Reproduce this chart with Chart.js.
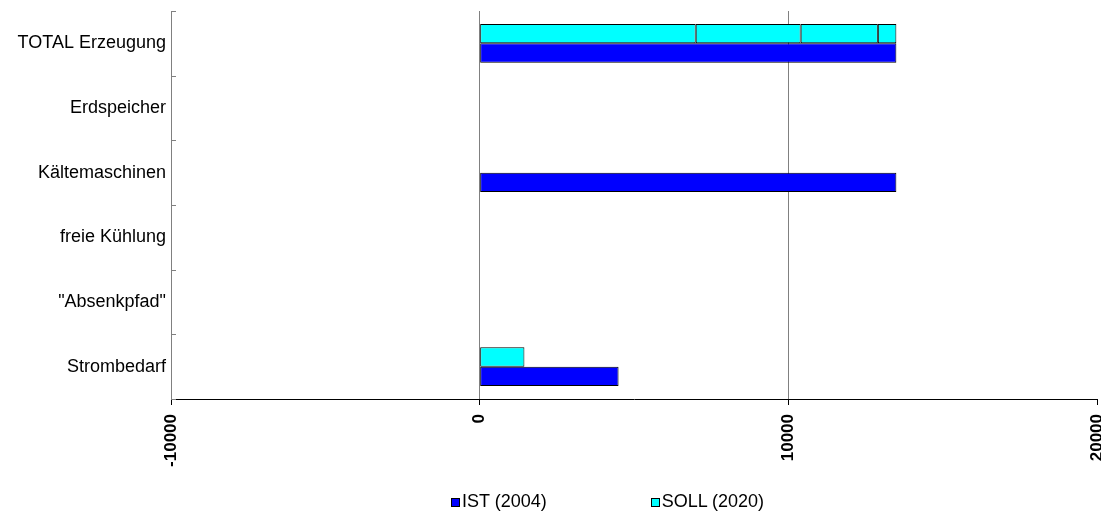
<!DOCTYPE html>
<html><head><meta charset="utf-8">
<script src="https://cdn.jsdelivr.net/npm/chart.js@4/dist/chart.umd.min.js"></script>
<style>
html,body{margin:0;padding:0;background:#fff;}
#wrap{position:relative;width:1101px;height:511px;overflow:hidden;}
#legend{position:absolute;left:451px;top:491px;display:flex;font-family:"Liberation Sans",Arial,sans-serif;font-size:18px;color:#000;line-height:20px;}
.item{display:flex;align-items:center;}
.box{width:7px;height:7px;border:1px solid #000;margin-right:2px;margin-top:2px;}
</style></head><body>
<div id="wrap"><canvas id="c" width="1101" height="511"></canvas><div id="legend"></div></div>
<script>
const categories = ['TOTAL Erzeugung','Erdspeicher','Kältemaschinen','freie Kühlung','"Absenkpfad"','Strombedarf'];
const istValues = [13500, 0, 13500, 0, 0, 4500];
const sollPart1 = [7000, 0, 0, 0, 0, 1450];
const sollPart2 = [3400, 0, 0, 0, 0, 0];
const sollPart3 = [2500, 0, 0, 0, 0, 0];
const sollPart4 = [600, 0, 0, 0, 0, 0];
const xTicks = [-10000, 0, 10000, 20000];
const seriesNames = ['IST (2004)', 'SOLL (2020)'];
const istColor = '#0000FF';
const sollColor = '#00FFFF';

Chart.defaults.font.family = '"Liberation Sans", Arial, sans-serif';
Chart.defaults.color = '#000';

const sollParts = [sollPart1, sollPart2, sollPart3, sollPart4];
const datasets = sollParts.map((d) => ({
  label: seriesNames[1], data: d, stack: 'soll',
  backgroundColor: sollColor, borderColor: '#000', borderWidth: 1, borderSkipped: false
}));
datasets.push({label: seriesNames[0], data: istValues, stack: 'ist',
  backgroundColor: istColor, borderColor: '#000', borderWidth: 1, borderSkipped: false});

const innerTicks = {
  id: 'innerTicks',
  afterDraw(chart) {
    const y = chart.scales.y, ctx = chart.ctx, left = chart.chartArea.left;
    ctx.save();
    ctx.strokeStyle = '#808080'; ctx.lineWidth = 1;
    ctx.beginPath();
    for (let i = 0; i <= categories.length; i++) {
      const p = Math.round(y.getPixelForValue(i - 0.5)) + 0.5;
      ctx.moveTo(left, p); ctx.lineTo(left + 5, p);
    }
    ctx.stroke();
    ctx.restore();
  }
};

new Chart(document.getElementById('c'), {
  type: 'bar',
  data: {labels: categories, datasets},
  plugins: [innerTicks],
  options: {
    indexAxis: 'y', responsive: false, animation: false,
    categoryPercentage: 0.6, barPercentage: 1.0,
    layout: {padding: {top: 11, right: 4, bottom: 0, left: 0}},
    plugins: {legend: {display: false}, tooltip: {enabled: false}},
    scales: {
      x: {
        stacked: true, min: -10000, max: 20000,
        afterBuildTicks: s => { s.ticks = xTicks.map(v => ({value: v})); },
        afterFit: s => { s.height = 112; s.paddingLeft = 0; s.paddingRight = 0; },
        border: {display: true, color: '#000', width: 1},
        grid: {
          color: c => (c.tick && (c.tick.value === 0 || c.tick.value === 10000)) ? '#808080' : 'rgba(0,0,0,0)',
          tickColor: '#000', tickLength: 6, drawTicks: true
        },
        ticks: {minRotation: 90, maxRotation: 90, padding: 9, font: {size: 17, weight: 'bold'}, color: '#000',
          callback: v => String(v)}
      },
      y: {
        afterFit: s => { s.width = 171; s.paddingTop = 0; s.paddingBottom = 0; },
        border: {display: true, color: '#808080', width: 1},
        grid: {display: false, drawTicks: false},
        ticks: {padding: 5, font: {size: 18}, color: '#000'}
      }
    }
  }
});

const leg = document.getElementById('legend');
[[seriesNames[0], istColor], [seriesNames[1], sollColor]].forEach(([name, col], i) => {
  const it = document.createElement('div'); it.className = 'item';
  if (i > 0) it.style.marginLeft = '104px';
  const b = document.createElement('div'); b.className = 'box'; b.style.background = col;
  const t = document.createElement('span'); t.textContent = name;
  it.appendChild(b); it.appendChild(t); leg.appendChild(it);
});
</script>
</body></html>
